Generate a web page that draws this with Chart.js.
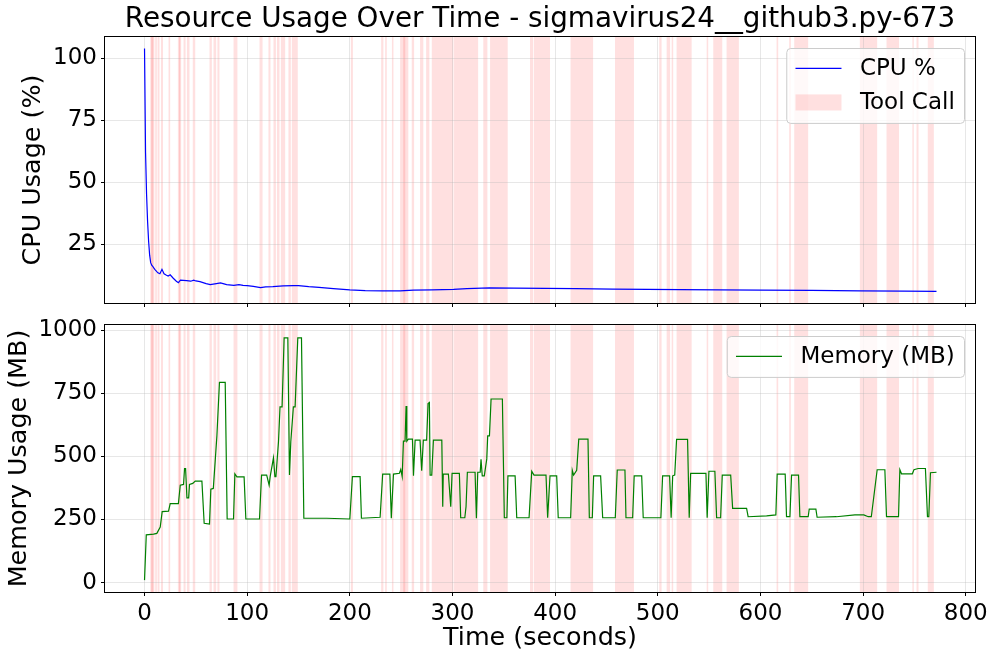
<!DOCTYPE html>
<html><head><meta charset="utf-8">
<script src="https://cdn.jsdelivr.net/npm/chart.js@4.4.1/dist/chart.umd.min.js"></script>
<style>
html,body{margin:0;padding:0;background:#fff;}
#wrap{position:relative;width:997px;height:661px;overflow:hidden;}
canvas{position:absolute;left:0;}
</style></head><body>
<div id="wrap">
<canvas id="cpu" width="997" height="315" style="top:0;width:997px;height:315px"></canvas>
<canvas id="mem" width="997" height="346" style="top:315px;width:997px;height:346px"></canvas>
</div>
<script>
const chartTitle = 'Resource Usage Over Time - sigmavirus24__github3.py-673';

const cpuTime = [0,1,2,3,4,5,6,7,8,10,13,15,17,19,21,23,25,28,31,33,35,41,45,48,50,54,60,64,70,74,80,87,92,96,100,106,113,118,125,135,145,150,160,170,184,200,215,232,249,262,280,301,314,336,360,391,420,456,490,522,560,600,650,697,740,771.5];
const cpuValues = [104,62,45,34,26,20.5,17.5,16.5,16,14.8,13.4,13,14.8,13,12.5,12.1,12.6,11.2,10,9.4,10.4,10.2,10,10.4,10.1,9.8,9.0,8.6,9.0,9.3,8.6,8.3,8.6,8.3,8.2,7.9,7.4,7.7,7.8,8.1,8.2,8.2,7.8,7.5,7.0,6.5,6.2,6.1,6.1,6.4,6.5,6.7,7.0,7.3,7.2,7.1,7.0,6.8,6.7,6.6,6.5,6.4,6.3,6.1,6.0,5.9];

const memTime = [0,1.7,8.8,12,15.3,17.2,23.4,25,33,34.8,38,39,40,41.3,43,43.8,47,49.4,55.9,58.1,63.3,64.6,67,68.8,70.5,73,78.6,80.5,86.7,88,90,97,98.7,112,114,119,121.4,122.4,125.6,127,128,130.5,132,134,136,139.6,141.2,142.5,145,146.7,149.3,152.9,155.2,177.5,200,202.5,210,211.3,229.5,232,239,240.4,242.5,248.3,249.6,251,252.2,253.8,254.8,255.5,257,261,262,263.6,268.4,270,271.6,274.8,276.2,277.5,278.2,279.8,281.4,289.6,290.5,291,296,298.3,299.6,306.7,308,312,313.2,314.5,322,323.3,324.6,327,327.8,329,331,333.4,334.3,336,337.6,348.6,350.5,353,354,361,362.6,374.6,377.2,379.4,391.1,392.7,395,401.5,403,415.1,416.7,418,421,423,432,433.3,436.2,437.5,444.3,446.3,458.6,460.5,468,469,475.5,477,484.3,485.8,503,504.7,511.5,513,514.5,516.5,518.3,529,530.6,532,546.9,548.1,549.8,555.6,557.3,561.2,562.8,571,572.9,586.5,588,606,615,616.3,624.1,625.4,628.7,630.3,637.1,638.4,646.5,647.5,654,655.2,674,692,700.7,705,708,713.7,721.2,722.8,734.5,735.8,737.4,748,749.5,753.6,760.7,762.7,764,765.6,771.5];
const memValues = [10,189,192,195,220,281,283,313,313,386,389,452,452,336,336,389,393,402,402,235,232,370,373,479,581,793,793,252,252,431,419,419,252,252,426,426,386,420,494,420,420,558,696,696,969,969,426,558,696,696,969,969,255,255,252,420,420,255,259,430,430,255,430,433,448,420,560,560,699,560,568,568,423,564,564,443,564,564,709,713,426,426,564,564,301,430,430,301,433,433,257,257,301,437,437,255,437,437,488,423,423,490,581,581,727,727,257,257,423,423,257,257,441,426,426,257,423,423,257,257,445,426,445,568,568,257,257,423,423,257,257,446,446,257,257,423,423,257,257,423,423,257,423,426,567,567,257,433,433,257,441,441,257,257,426,426,294,294,261,264,268,430,430,261,261,426,426,261,261,291,291,259,261,268,268,261,261,447,447,261,261,447,431,431,447,452,452,261,261,435,437];

const toolStart = [5.6,6.4,7.4,10.4,12.7,16,23.4,32.5,33.6,38,41.3,47,63.3,67.2,71,86.7,112,120.7,125.6,129,132.8,140.2,143.5,201,230.5,234.4,241,249,252,260.3,268.4,274.3,279.8,301.5,330,336.6,375.5,379.4,415,458.3,501.4,508.6,513.5,518.3,547.6,554,567,615.7,628,632.9,696.8,722.8,748,752,763];
const toolEnd   = [7.6,8.6,9.6,12,14.6,18,25,35.7,34.8,40,43.8,49.4,65.6,69.8,73,90.5,115,122.7,128,131.5,137,142.5,149.3,203,232.7,236,242.5,257,254,262.6,271.6,277.5,301,325,334,353.8,378.7,395,437,476.8,503.7,512,515,533,549.1,562.8,579,617.3,629.6,646.5,713.7,735,749.4,754,768.9];

const xTicks = [0,100,200,300,400,500,600,700,800];
const cpuTicks = [25,50,75,100];
const memTicks = [0,250,500,750,1000];

const FONT = "'DejaVu Sans'";
const GRID = 'rgba(176,176,176,0.3)';

const bandsPlugin = {
  id: 'toolBands',
  beforeDraw(chart, args, o) {
    const {ctx, chartArea: a, scales: {x}} = chart;
    ctx.save();
    ctx.beginPath(); ctx.rect(a.left, a.top, a.width, a.height); ctx.clip();
    ctx.fillStyle = o.color;
    toolStart.forEach((s, i) => {
      const x0 = x.getPixelForValue(s), x1 = x.getPixelForValue(toolEnd[i]);
      ctx.fillRect(x0, a.top, x1 - x0, a.height);
    });
    ctx.restore();
  }
};

const framePlugin = {
  id: 'frame',
  afterDraw(chart) {
    const {ctx, chartArea: a} = chart;
    ctx.save();
    ctx.strokeStyle = '#000'; ctx.lineWidth = 1;
    const l = Math.round(a.left) - 0.5, t = Math.round(a.top) - 0.5;
    const r = Math.round(a.right) + 0.5, b = Math.round(a.bottom) + 0.5;
    ctx.strokeRect(l, t, r - l, b - t);
    ctx.restore();
  }
};

const legendPlugin = {
  id: 'mplLegend',
  afterDraw(chart, args, o) {
    const {ctx, chartArea: a} = chart;
    const fs = o.fontSize;
    ctx.save();
    ctx.font = fs + 'px ' + FONT;
    const pad = 0.4 * fs, handle = 2 * fs, hpad = 0.8 * fs, rowH = o.rowHeight, gap = 0.5 * fs;
    const items = o.items;
    const tw = Math.max(...items.map(it => ctx.measureText(it.label).width));
    const w = pad * 2 + handle + hpad + tw;
    const h = pad * 2 + rowH * items.length + gap * (items.length - 1);
    const x = a.right - o.inset - w, y = a.top + o.inset;
    ctx.beginPath();
    ctx.roundRect(x + 0.5, y + 0.5, w, h, 4);
    ctx.fillStyle = 'rgba(255,255,255,0.8)';
    ctx.fill();
    ctx.strokeStyle = '#cccccc'; ctx.lineWidth = 1;
    ctx.stroke();
    items.forEach((it, i) => {
      const cy = y + pad + rowH * (i + 0.5) + gap * i;
      if (it.type === 'line') {
        ctx.strokeStyle = it.color; ctx.lineWidth = it.width;
        ctx.beginPath(); ctx.moveTo(x + pad, cy); ctx.lineTo(x + pad + handle, cy); ctx.stroke();
      } else {
        ctx.fillStyle = it.color;
        ctx.fillRect(x + pad, cy - 0.35 * fs, handle, 0.7 * fs);
      }
      ctx.fillStyle = '#000'; ctx.textBaseline = 'middle'; ctx.textAlign = 'left';
      ctx.fillText(it.label, x + pad + handle + hpad, cy + 1);
    });
    ctx.restore();
  }
};

function setTicks(arr) { return s => { s.ticks = arr.map(v => ({value: v})); }; }
const plainLabel = v => String(v);

const tickFont = {family: FONT, size: 23};
const titleFont = {family: FONT, size: 25.4, lineHeight: 1};

new Chart(document.getElementById('cpu'), {
  type: 'line',
  data: {datasets: [{
    label: 'CPU %',
    data: cpuTime.map((t, i) => ({x: t, y: cpuValues[i]})),
    borderColor: '#0000ff', borderWidth: 1.2, pointRadius: 0, tension: 0, fill: false
  }]},
  plugins: [bandsPlugin, framePlugin, legendPlugin],
  options: {
    responsive: false, animation: false, devicePixelRatio: 1,
    layout: {padding: {left: 0, right: 22, top: 0, bottom: 0}},
    plugins: {
      legend: {display: false}, tooltip: {enabled: false},
      title: {display: true, text: chartTitle, color: '#000', fullSize: false,
        font: {family: FONT, size: 27.8, weight: 'normal', lineHeight: 1},
        padding: {top: 6, bottom: 3.2}},
      toolBands: {color: 'rgba(255,0,0,0.12)'},
      mplLegend: {fontSize: 23, rowHeight: 22.5, inset: 11,
        items: [{type: 'line', label: 'CPU %', color: '#0000ff', width: 1.2},
                {type: 'patch', label: 'Tool Call', color: 'rgba(255,0,0,0.12)'}]}
    },
    scales: {
      x: {type: 'linear', min: -38.5, max: 809,
        afterBuildTicks: setTicks(xTicks),
        afterFit: s => { s.height = 12; s.paddingLeft = 0; s.paddingRight = 0; },
        ticks: {display: false},
        grid: {color: GRID, lineWidth: 1, drawTicks: true, tickLength: 4, tickColor: '#000', tickWidth: 1},
        border: {display: false}},
      y: {type: 'linear', min: 1.2, max: 108.6,
        afterBuildTicks: setTicks(cpuTicks),
        afterFit: s => { s.width = 105; s.paddingTop = 0; s.paddingBottom = 0; },
        ticks: {font: tickFont, color: '#000', padding: 4, callback: plainLabel},
        grid: {color: GRID, lineWidth: 1, drawTicks: true, tickLength: 4, tickColor: '#000', tickWidth: 1},
        border: {display: false},
        title: {display: true, text: 'CPU Usage (%)', color: '#000', font: titleFont, padding: {top: 21, bottom: 0}}}
    }
  }
});

new Chart(document.getElementById('mem'), {
  type: 'line',
  data: {datasets: [{
    label: 'Memory (MB)',
    data: memTime.map((t, i) => ({x: t, y: memValues[i]})),
    borderColor: '#008000', borderWidth: 1.2, pointRadius: 0, tension: 0, fill: false
  }]},
  plugins: [bandsPlugin, framePlugin, legendPlugin],
  options: {
    responsive: false, animation: false, devicePixelRatio: 1,
    layout: {padding: {left: 0, right: 22, top: 10, bottom: 0}},
    plugins: {
      legend: {display: false}, tooltip: {enabled: false}, title: {display: false},
      toolBands: {color: 'rgba(255,0,0,0.12)'},
      mplLegend: {fontSize: 23, rowHeight: 22.5, inset: 11,
        items: [{type: 'line', label: 'Memory (MB)', color: '#008000', width: 1.2}]}
    },
    scales: {
      x: {type: 'linear', min: -38.5, max: 809,
        afterBuildTicks: setTicks(xTicks),
        afterFit: s => { s.height = 69; s.paddingLeft = 0; s.paddingRight = 0; },
        ticks: {font: tickFont, color: '#000', padding: 4, maxRotation: 0, callback: plainLabel},
        grid: {color: GRID, lineWidth: 1, drawTicks: true, tickLength: 4, tickColor: '#000', tickWidth: 1},
        border: {display: false},
        title: {display: true, text: 'Time (seconds)', color: '#000', font: titleFont, padding: {top: 0, bottom: 10}}},
      y: {type: 'linear', min: -37, max: 1020,
        afterBuildTicks: setTicks(memTicks),
        afterFit: s => { s.width = 105; s.paddingTop = 0; s.paddingBottom = 0; },
        ticks: {font: tickFont, color: '#000', padding: 4, callback: plainLabel},
        grid: {color: GRID, lineWidth: 1, drawTicks: true, tickLength: 4, tickColor: '#000', tickWidth: 1},
        border: {display: false},
        title: {display: true, text: 'Memory Usage (MB)', color: '#000', font: titleFont, padding: {top: 7, bottom: 0}}}
    }
  }
});
</script>
</body></html>
